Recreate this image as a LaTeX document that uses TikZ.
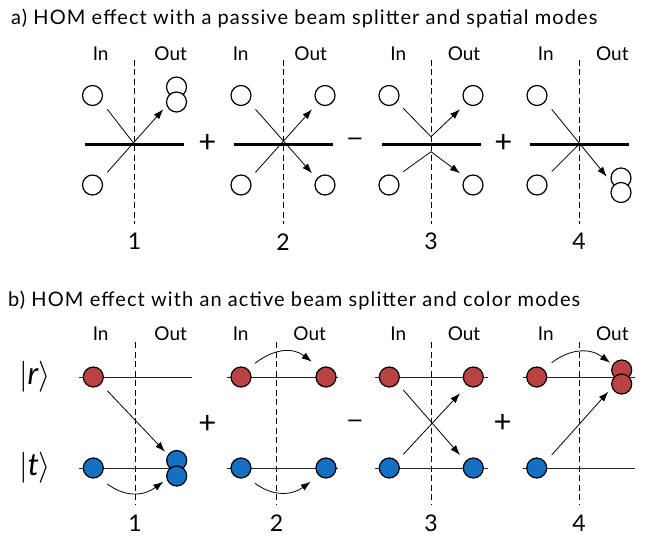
\documentclass[tikz,border=0pt]{standalone}
\usepackage{fontspec}
\setmainfont{Lato}
\newfontfamily\dvs{DejaVu Sans}
\usetikzlibrary{arrows.meta}
\definecolor{pred}{RGB}{186,66,66}
\definecolor{pblue}{RGB}{22,112,194}
\tikzset{
 ph/.style={circle, draw=black, line width=1.2pt, fill=white, minimum size=20pt, inner sep=0pt},
 phr/.style={ph, fill=pred},
 phb/.style={ph, fill=pblue},
 bs/.style={line width=2.7pt},
 ray/.style={line width=0.8pt},
 arr/.style={ray, -{Latex[length=10pt,width=7pt]}},
 guide/.style={line width=0.8pt, dash pattern=on 6pt off 3.5pt},
 modeline/.style={line width=0.9pt, draw=black!85},
 lab/.style={font=\fontsize{19}{19}\selectfont, inner sep=0pt},
 num/.style={font=\fontsize{23}{23}\selectfont, inner sep=0pt},
 op/.style={font=\fontsize{31}{31}\selectfont, inner sep=0pt},
 opm/.style={font=\dvs\fontsize{21}{21}\selectfont, inner sep=0pt},
 ttl/.style={font=\fontsize{20}{20}\selectfont\addfontfeatures{LetterSpace=5.5}, anchor=base west, inner sep=0pt},
 ket/.style={font=\fontsize{20.74}{24}\selectfont, inner sep=0pt},
}
\begin{document}
\begin{tikzpicture}[x=1pt,y=-1pt]
\useasboundingbox (0,0) rectangle (653,537);

% ---------------- titles
\node[ttl] (ta) at (11,25) {a) HOM effect with a passive beam splitter and spatial modes};
\node[ttl] (tb) at (8,306) {b) HOM effect with an active beam splitter and color modes};

% ---------------- panel a labels
\foreach \n/\xi/\xo/\xn in {1/100.7/170.7/134.5, 2/240.7/310.7/283, 3/398.3/464/431, 4/545.7/612.3/579}{
  \node[lab] (ain\n) at (\xi,53.3) {In};
  \node[lab] (aout\n) at (\xo,53.3) {Out};
  \node[num] (anum\n) at (\xn,241.7) {\n};
}
\node[op] (aop1) at (207.3,143.3) {+};
\node[opm] (aop2) at (355,141.7) {−};
\node[op] (aop3) at (503.3,143.3) {+};

% ---------------- panel a guides and beam splitters
\foreach \n/\x in {1/134.5, 2/283, 3/431, 4/579}{
  \coordinate (ag\n t) at (\x,60);
  \coordinate (ag\n b) at (\x,224);
  \draw[guide] (ag\n t) -- (ag\n b);
  \coordinate (abs\n l) at (\x-49.5,144.3);
  \coordinate (abs\n r) at (\x+49.5,144.3);
  \draw[bs] (abs\n l) -- (abs\n r);
}

% diagram a1
\node[ph] (a1tl) at (92.5,95.5) {};
\node[ph] (a1bl) at (92.5,185) {};
\node[ph] (a1tr1) at (176.5,87) {};
\node[ph] (a1tr2) at (176.5,102) {};
\coordinate (a1s1) at (107.3,109.3);
\coordinate (a1s2) at (107.3,172.3);
\coordinate (a1c) at (134.5,144.3);
\coordinate (a1e) at (163.3,109.3);
\draw[ray] (a1s1) -- (a1c);
\draw[arr] (a1s2) -- (a1e);

% diagram a2
\node[ph] (a2tl) at (241,95.5) {};
\node[ph] (a2bl) at (241,185) {};
\node[ph] (a2tr) at (325,95.5) {};
\node[ph] (a2br) at (325,185) {};
\coordinate (a2s1) at (255.5,109.3);
\coordinate (a2s2) at (255.5,172.3);
\coordinate (a2e1) at (312,173.3);
\coordinate (a2e2) at (312,109.3);
\draw[arr] (a2s1) -- (a2e1);
\draw[arr] (a2s2) -- (a2e2);

% diagram a3
\node[ph] (a3tl) at (389,95.5) {};
\node[ph] (a3bl) at (389,185) {};
\node[ph] (a3tr) at (473,95.5) {};
\node[ph] (a3br) at (473,185) {};
\coordinate (a3s1) at (403.3,108.3);
\coordinate (a3v1) at (431,136.7);
\coordinate (a3e1) at (460,109.3);
\coordinate (a3s2) at (403.3,171.7);
\coordinate (a3v2) at (431,151.7);
\coordinate (a3e2) at (460,173.3);
\draw[ray] (a3s1) -- (a3v1);
\draw[arr] (a3v1) -- (a3e1);
\draw[ray] (a3s2) -- (a3v2);
\draw[arr] (a3v2) -- (a3e2);

% diagram a4
\node[ph] (a4tl) at (537,95.5) {};
\node[ph] (a4bl) at (537,185) {};
\node[ph] (a4br1) at (621,178) {};
\node[ph] (a4br2) at (621,192.5) {};
\coordinate (a4s1) at (551.7,109.3);
\coordinate (a4e1) at (606.7,176.7);
\coordinate (a4s2) at (551.7,171.7);
\coordinate (a4c) at (579,144.3);
\draw[arr] (a4s1) -- (a4e1);
\draw[ray] (a4s2) -- (a4c);

% ---------------- panel b labels
\foreach \n/\xi/\xo/\xn in {1/100.7/170.7/135, 2/240.7/309.7/276.5, 3/398.3/464/431, 4/545.7/612.3/579}{
  \node[lab] (bin\n) at (\xi,333.3) {In};
  \node[lab] (bout\n) at (\xo,333.3) {Out};
  \node[num] (bnum\n) at (\xn,523.3) {\n};
  \coordinate (bg\n t) at (\xn,342);
  \coordinate (bg\n b) at (\xn,505);
  \draw[guide] (bg\n t) -- (bg\n b);
}
\node[op] (bop1) at (207.3,424) {+};
\node[opm] (bop2) at (355,423.3) {−};
\node[op] (bop3) at (502.7,423.3) {+};

\node[ket] (kr) at (35,376.5) {\scalebox{1.5}{$|$\textit{r}$\rangle$}};
\node[ket] (kt) at (35,467.5) {\scalebox{1.5}{$|$\textit{t}$\rangle$}};

% mode lines
\coordinate (r1l) at (79.3,377); \coordinate (r1r) at (191.7,377);
\coordinate (t1l) at (79.3,468); \coordinate (t1r) at (176,468);
\coordinate (r2l) at (226.7,377); \coordinate (r2r) at (338.3,377);
\coordinate (t2l) at (226.7,468); \coordinate (t2r) at (338.3,468);
\coordinate (r3l) at (375,377); \coordinate (r3r) at (487.7,377);
\coordinate (t3l) at (375,468); \coordinate (t3r) at (487.7,468);
\coordinate (r4l) at (523.3,377); \coordinate (r4r) at (635,377);
\coordinate (t4l) at (523.3,468); \coordinate (t4r) at (635,468);
\foreach \n in {1,2,3,4}{
  \draw[modeline] (r\n l) -- (r\n r);
  \draw[modeline] (t\n l) -- (t\n r);
}

% diagram b1
\node[phr] (b1r) at (93.3,377) {};
\node[phb] (b1t) at (93.3,468) {};
\node[phb] (b1o1) at (176.7,460.5) {};
\node[phb] (b1o2) at (176.7,476) {};
\coordinate (b1s1) at (107.3,390.7);
\coordinate (b1e1) at (165,451.7);
\draw[arr] (b1s1) -- (b1e1);
\coordinate (b1s2) at (107.3,484);
\coordinate (b1e2) at (163.3,481.7);
\draw[arr] (b1s2) .. controls (126.3,498) and (144.3,495.7) .. (b1e2);

% diagram b2
\node[phr] (b2rl) at (241,377) {};
\node[phr] (b2rr) at (326,377) {};
\node[phb] (b2tl) at (241,468) {};
\node[phb] (b2tr) at (326,468) {};
\coordinate (b2s1) at (255,363.3);
\coordinate (b2e1) at (311.7,361.7);
\draw[arr] (b2s1) .. controls (274,348.6) and (292.7,347) .. (b2e1);
\coordinate (b2s2) at (255,483.3);
\coordinate (b2e2) at (310.7,481.7);
\draw[arr] (b2s2) .. controls (273.6,497) and (292.1,495.3) .. (b2e2);

% diagram b3
\node[phr] (b3rl) at (389.3,377) {};
\node[phr] (b3rr) at (473.3,377) {};
\node[phb] (b3tl) at (389.3,468) {};
\node[phb] (b3tr) at (473.3,468) {};
\coordinate (b3s1) at (403.3,390);
\coordinate (b3e1) at (460,455);
\coordinate (b3s2) at (403.3,454.3);
\coordinate (b3e2) at (460,393.3);
\draw[arr] (b3s1) -- (b3e1);
\draw[arr] (b3s2) -- (b3e2);

% diagram b4
\node[phr] (b4rl) at (536.7,377) {};
\node[phb] (b4tl) at (536.7,468) {};
\node[phr] (b4o1) at (621.7,370) {};
\node[phr] (b4o2) at (621.7,384) {};
\coordinate (b4s1) at (551.7,362.7);
\coordinate (b4e1) at (610,362.7);
\draw[arr] (b4s1) .. controls (571,348) and (590.6,348) .. (b4e1);
\coordinate (b4s2) at (551.7,455);
\coordinate (b4e2) at (608.3,391.7);
\draw[arr] (b4s2) -- (b4e2);
\end{tikzpicture}
\end{document}
